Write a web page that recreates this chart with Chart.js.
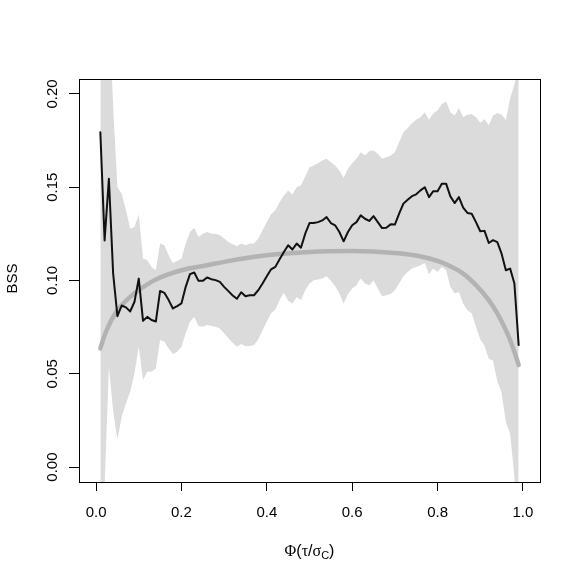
<!DOCTYPE html>
<html><head><meta charset="utf-8">
<script src="https://cdn.jsdelivr.net/npm/chart.js@4/dist/chart.umd.min.js"></script>
<style>html,body{margin:0;padding:0;background:#fff;}canvas{display:block;}</style>
</head><body>
<canvas id="c" width="581" height="581"></canvas>
<script>
const xValues = [
 0.01,0.02,0.03,0.04,0.05,0.06,0.07,0.08,0.09,0.10,
 0.11,0.12,0.13,0.14,0.15,0.16,0.17,0.18,0.19,0.20,
 0.21,0.22,0.23,0.24,0.25,0.26,0.27,0.28,0.29,0.30,
 0.31,0.32,0.33,0.34,0.35,0.36,0.37,0.38,0.39,0.40,
 0.41,0.42,0.43,0.44,0.45,0.46,0.47,0.48,0.49,0.50,
 0.51,0.52,0.53,0.54,0.55,0.56,0.57,0.58,0.59,0.60,
 0.61,0.62,0.63,0.64,0.65,0.66,0.67,0.68,0.69,0.70,
 0.71,0.72,0.73,0.74,0.75,0.76,0.77,0.78,0.79,0.80,
 0.81,0.82,0.83,0.84,0.85,0.86,0.87,0.88,0.89,0.90,
 0.91,0.92,0.93,0.94,0.95,0.96,0.97,0.98,0.99];
const bssObserved = [
 0.1795,0.1215,0.1545,0.1037,0.0809,0.0866,0.0856,0.0834,0.0886,0.1010,
 0.0784,0.0805,0.0788,0.0780,0.0944,0.0934,0.0895,0.0850,0.0863,0.0877,
 0.0966,0.1034,0.1043,0.0998,0.0998,0.1016,0.1007,0.1002,0.0993,0.0966,
 0.0943,0.0920,0.0902,0.0937,0.0916,0.0921,0.0921,0.0948,0.0984,0.1023,
 0.1060,0.1073,0.1114,0.1153,0.1189,0.1166,0.1198,0.1176,0.1251,0.1308,
 0.1308,0.1313,0.1322,0.1340,0.1308,0.1296,0.1260,0.1210,0.1260,0.1296,
 0.1313,0.1349,0.1331,0.1319,0.1345,0.1313,0.1281,0.1283,0.1301,0.1300,
 0.1358,0.1412,0.1433,0.1452,0.1462,0.1483,0.1500,0.1447,0.1479,0.1479,
 0.1519,0.1519,0.1451,0.1415,0.1447,0.1390,0.1362,0.1358,0.1313,0.1264,
 0.1266,0.1201,0.1216,0.1206,0.1144,0.1055,0.1064,0.0984,0.0654];
const bandUpper = [
 0.3500,0.3000,0.2500,0.1930,0.1500,0.1465,0.1376,0.1278,0.1287,0.1355,
 0.1118,0.1109,0.1073,0.1055,0.1198,0.1189,0.1135,0.1094,0.1105,0.1118,
 0.1198,0.1260,0.1283,0.1233,0.1251,0.1260,0.1251,0.1251,0.1242,0.1225,
 0.1206,0.1194,0.1183,0.1198,0.1189,0.1198,0.1198,0.1225,0.1269,0.1313,
 0.1355,0.1376,0.1420,0.1456,0.1483,0.1461,0.1500,0.1510,0.1558,0.1607,
 0.1617,0.1629,0.1643,0.1652,0.1634,0.1617,0.1590,0.1551,0.1599,0.1629,
 0.1652,0.1688,0.1670,0.1693,0.1697,0.1679,0.1652,0.1661,0.1670,0.1688,
 0.1741,0.1795,0.1818,0.1843,0.1861,0.1875,0.1902,0.1861,0.1896,0.1911,
 0.1946,0.1960,0.1902,0.1884,0.1925,0.1875,0.1889,0.1893,0.1875,0.1845,
 0.1866,0.1832,0.1884,0.1898,0.1888,0.1860,0.1975,0.2050,0.2150];
const bandLower = [
 -0.3000,-0.0100,0.0538,0.0300,0.0146,0.0270,0.0342,0.0404,0.0503,0.0645,
 0.0467,0.0511,0.0511,0.0529,0.0681,0.0672,0.0636,0.0606,0.0618,0.0645,
 0.0717,0.0779,0.0805,0.0756,0.0752,0.0761,0.0756,0.0752,0.0743,0.0717,
 0.0690,0.0667,0.0645,0.0659,0.0649,0.0649,0.0654,0.0685,0.0734,0.0779,
 0.0824,0.0845,0.0895,0.0934,0.0891,0.0877,0.0912,0.0895,0.0948,0.0984,
 0.1002,0.1005,0.1011,0.1023,0.0998,0.0970,0.0930,0.0877,0.0927,0.0957,
 0.0975,0.1011,0.0984,0.0975,0.1002,0.0957,0.0916,0.0921,0.0927,0.0948,
 0.0984,0.1023,0.1046,0.1064,0.1073,0.1082,0.1094,0.1034,0.1064,0.1046,
 0.1073,0.1055,0.0966,0.0930,0.0939,0.0877,0.0841,0.0824,0.0752,0.0685,
 0.0650,0.0580,0.0570,0.0460,0.0400,0.0240,0.0180,-0.0050,-0.0500];
const smoothX = [0.01,0.02,0.03,0.04,0.06,0.08,0.10,0.14,0.20,0.26,0.30,0.40,0.50,0.60,0.70,0.75,0.80,0.83,0.86,0.89,0.92,0.94,0.96,0.97,0.98,0.99];
const smoothY = [0.0636,0.0707,0.0760,0.0805,0.0868,0.0912,0.0948,0.1005,0.1055,0.1082,0.1100,0.1135,0.1153,0.1158,0.1148,0.1134,0.1105,0.1076,0.1037,0.0975,0.0895,0.0824,0.0734,0.0681,0.0618,0.0547];
const xTickValues = [0, 0.2, 0.4, 0.6, 0.8, 1.0];
const xTickLabels = ['0.0', '0.2', '0.4', '0.6', '0.8', '1.0'];
const yTickValues = [0, 0.05, 0.10, 0.15, 0.20];
const yTickLabels = ['0.00', '0.05', '0.10', '0.15', '0.20'];
const yAxisTitle = 'BSS';
const xAxisTitleParts = [
  {t:'\u03A6', serif:true}, {t:'(', serif:false}, {t:'\u03C4', serif:true},
  {t:'/', serif:false}, {t:'\u03C3', serif:true}, {t:'C', serif:false, sub:true}, {t:')', serif:false}];

const pts = (xs, ys) => xs.map((x, i) => ({x: x, y: ys[i]}));

const SANS = '"Liberation Sans", Arial, sans-serif';
const SERIF = '"Liberation Serif", "DejaVu Serif", serif';

const decorPlugin = {
  id: 'decor',
  afterDraw(chart) {
    const ctx = chart.ctx, ca = chart.chartArea;
    const xs = chart.scales.x, ys = chart.scales.y;
    ctx.save();
    ctx.strokeStyle = '#000'; ctx.lineWidth = 1;
    ctx.strokeRect(ca.left + 0.5, ca.top + 0.5, ca.right - ca.left, ca.bottom - ca.top);
    ctx.fillStyle = '#000';
    ctx.font = '15px ' + SANS;
    ctx.textAlign = 'center'; ctx.textBaseline = 'alphabetic';
    xs.ticks.forEach((t, i) => {
      ctx.fillText(xTickLabels[i], xs.getPixelForValue(t.value), ca.bottom + 35);
    });
    ys.ticks.forEach((t, i) => {
      ctx.save();
      ctx.translate(ca.left - 22, ys.getPixelForValue(t.value));
      ctx.rotate(-Math.PI / 2);
      ctx.fillText(yTickLabels[i], 0, 0);
      ctx.restore();
    });
    // y title
    ctx.save();
    ctx.font = '15px ' + SANS;
    ctx.translate(17, (ca.top + ca.bottom) / 2 - 2);
    ctx.rotate(-Math.PI / 2);
    ctx.fillText(yAxisTitle, 0, 0);
    ctx.restore();
    // x title with subscript
    const main = 16, sub = 11;
    const fontOf = p => (p.sub ? sub : main) + 'px ' + (p.serif ? SERIF : SANS);
    let total = 0;
    xAxisTitleParts.forEach(p => { ctx.font = fontOf(p); total += ctx.measureText(p.t).width; });
    let cx = (ca.left + ca.right) / 2 - total / 2;
    const base = 556;
    ctx.textAlign = 'left';
    xAxisTitleParts.forEach(p => {
      ctx.font = fontOf(p);
      ctx.fillText(p.t, cx, base + (p.sub ? 3 : 0));
      cx += ctx.measureText(p.t).width;
    });
    ctx.restore();
  }
};

new Chart(document.getElementById('c'), {
  type: 'line',
  data: {
    datasets: [
      { label: 'observed', data: pts(xValues, bssObserved), borderColor: '#111111', borderWidth: 2,
        pointRadius: 0, fill: false, tension: 0, borderJoinStyle: 'round', borderCapStyle: 'round', order: 0 },
      { label: 'smooth', data: pts(smoothX, smoothY), borderColor: '#b3b3b3', borderWidth: 4.5,
        pointRadius: 0, fill: false, cubicInterpolationMode: 'monotone', borderCapStyle: 'round', order: 1 },
      { label: 'upper', data: pts(xValues, bandUpper), borderColor: 'rgba(0,0,0,0)', borderWidth: 0,
        backgroundColor: '#dbdbdb', pointRadius: 0, fill: '+1', tension: 0, order: 2 },
      { label: 'lower', data: pts(xValues, bandLower), borderColor: 'rgba(0,0,0,0)', borderWidth: 0,
        backgroundColor: '#dbdbdb', pointRadius: 0, fill: false, tension: 0, order: 3 }
    ]
  },
  options: {
    responsive: false, animation: false, devicePixelRatio: 1,
    layout: { padding: { left: 0, top: 79, right: 41, bottom: 0 } },
    plugins: { legend: { display: false }, tooltip: { enabled: false } },
    scales: {
      x: {
        type: 'linear', position: 'bottom', min: -0.04, max: 1.04,
        afterBuildTicks: s => { s.ticks = xTickValues.map(v => ({ value: v })); },
        afterFit: s => { s.height = 99; },
        ticks: { display: false },
        grid: { drawOnChartArea: false, drawTicks: true, tickLength: 9, color: '#000', lineWidth: 1 },
        border: { display: false }
      },
      y: {
        type: 'linear', position: 'left', min: -0.008, max: 0.208,
        afterBuildTicks: s => { s.ticks = yTickValues.map(v => ({ value: v })); },
        afterFit: s => { s.width = 79; },
        ticks: { display: false },
        grid: { drawOnChartArea: false, drawTicks: true, tickLength: 10, color: '#000', lineWidth: 1 },
        border: { display: false }
      }
    }
  },
  plugins: [decorPlugin]
});
</script>
</body></html>
